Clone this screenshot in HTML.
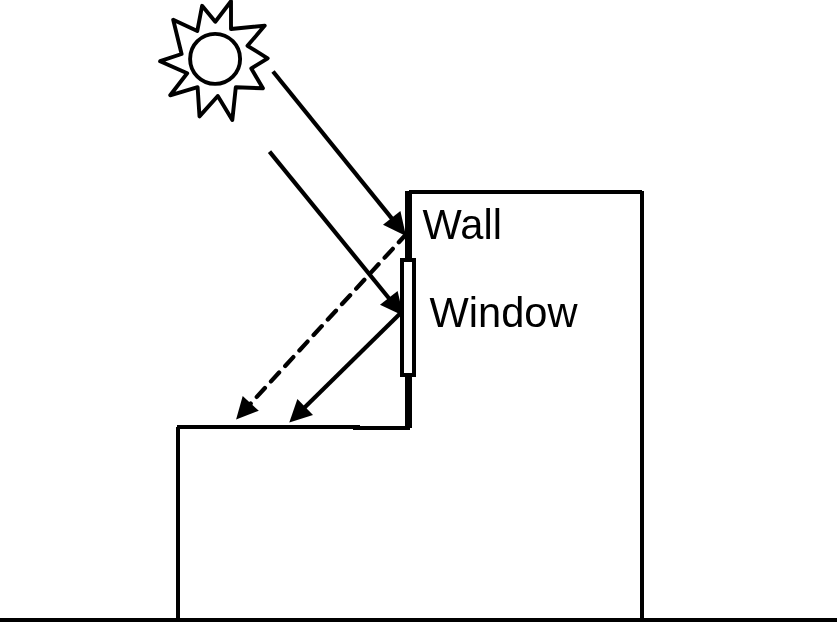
<!DOCTYPE html>
<html>
<head>
<meta charset="utf-8">
<title>Wall and Window solar reflection diagram</title>
<style>
  html, body { margin: 0; padding: 0; background: #fff; }
  body { width: 837px; height: 622px; overflow: hidden; position: relative; }
  svg { position: absolute; left: 0; top: 0; display: block; }
  text { font-family: "Liberation Sans", sans-serif; fill: #000; }
</style>
</head>
<body>
<svg width="837" height="622" viewBox="0 0 837 622">
  <rect x="0" y="0" width="837" height="622" fill="#fff"/>

  <!-- ground -->
  <rect x="0" y="618" width="837" height="4" fill="#000"/>

  <!-- tall building -->
  <rect x="409" y="190" width="233" height="4" fill="#000"/>
  <rect x="640" y="191" width="4" height="429" fill="#000"/>
  <!-- thick wall -->
  <rect x="405" y="191" width="7" height="237" fill="#000"/>

  <!-- low building -->
  <polygon points="177,425 360,425 360,426 410,426 410,430 353,430 353,429 177,429" fill="#000"/>
  <rect x="176" y="427" width="4" height="193" fill="#000"/>

  <!-- incoming rays -->
  <g stroke="#000" stroke-width="4.2" fill="none">
    <line x1="273" y1="71.5" x2="395" y2="222.4"/>
    <line x1="269.5" y1="151.6" x2="392" y2="302"/>
    <!-- reflected solid -->
    <line x1="402.5" y1="311.2" x2="300" y2="412.1"/>
    <!-- reflected dashed -->
    <line x1="405" y1="235.5" x2="249.4" y2="404.9" stroke-width="4.3" stroke-linecap="round" stroke-dasharray="12 9" stroke-dashoffset="2.9"/>
  </g>

  <!-- arrow heads -->
  <g fill="#000" stroke="none">
    <polygon points="400.4,211.1 383,224.7 406,236"/>
    <polygon points="397.6,291.1 380,304.8 403.3,315.8"/>
    <polygon points="242.7,396.1 258.8,410.8 236.1,419.4"/>
    <polygon points="297.4,399.1 313,414.9 289.3,422.6"/>
  </g>

  <!-- window -->
  <rect x="402" y="260" width="12" height="115" fill="#fff" stroke="#000" stroke-width="4"/>

  <!-- sun -->
  <g stroke="#000" stroke-width="3.9" fill="none" stroke-linejoin="round">
    <polygon points="173.2,19.8 197.3,30.9 202.1,5.8 215.3,21.7 231,1.2 231,29 264.8,25.6 247.5,45.8 267.7,58.3 251.3,68.5 262.9,88.3 235.8,87.2 232.3,120 217.8,96 199.5,116.4 197.6,87.2 170.2,95.3 187.2,73.3 160.1,61.2 181.6,54"/>
    <circle cx="215.1" cy="58.9" r="25"/>
  </g>

  <!-- labels -->
  <g style="filter:grayscale(1)">
  <text x="422.6" y="238.8" font-size="41.6">Wall</text>
  <text x="429.6" y="326.6" font-size="41.6">Window</text>
  </g>
</svg>
</body>
</html>
